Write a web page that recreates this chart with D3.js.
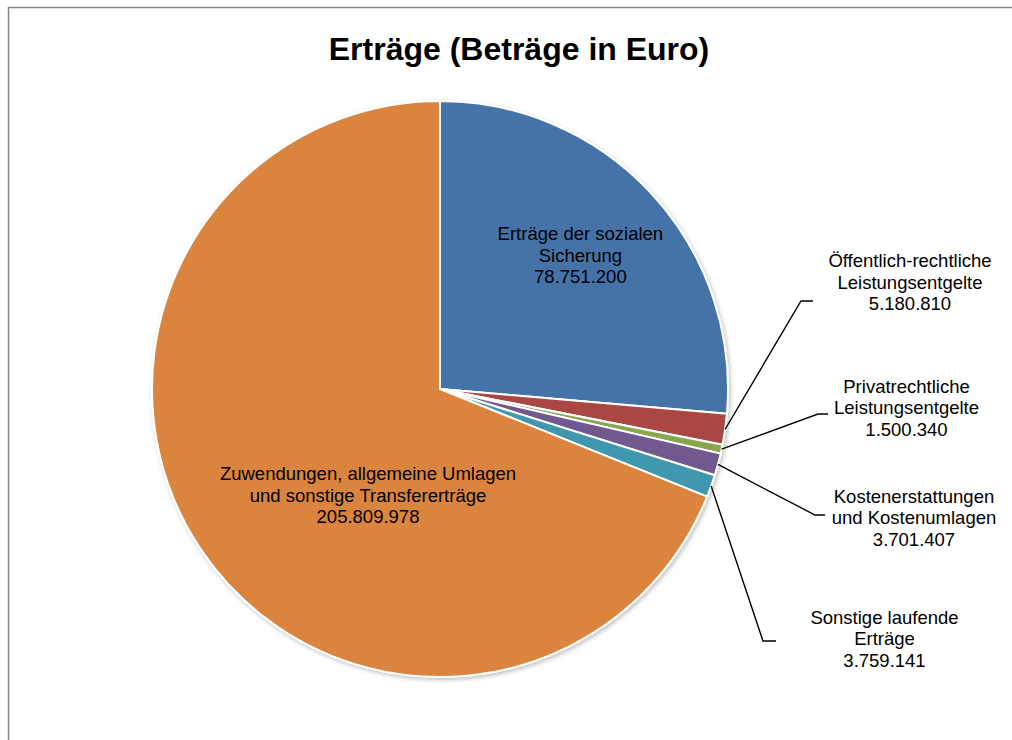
<!DOCTYPE html>
<html>
<head>
<meta charset="utf-8">
<script src="https://cdn.jsdelivr.net/npm/d3@7"></script>
<style>
  body { margin: 0; background: #fff; }
  text { font-family: "Liberation Sans", Arial, sans-serif; fill: #000; }
</style>
</head>
<body>
<div id="main"></div>
<script>
// chart data
var categories = [
    ["Erträge der sozialen", "Sicherung"],
    ["Öffentlich-rechtliche", "Leistungsentgelte"],
    ["Privatrechtliche", "Leistungsentgelte"],
    ["Kostenerstattungen", "und Kostenumlagen"],
    ["Sonstige laufende", "Erträge"],
    ["Zuwendungen, allgemeine Umlagen", "und sonstige Transfererträge"]
];
var values = [78751200, 5180810, 1500340, 3701407, 3759141, 205809978];
var colors = ["#4572A7", "#AA4643", "#89A54E", "#71588F", "#4198AF", "#DB843D"];
var title = "Erträge (Beträge in Euro)";

var ctx = { w: 1012, h: 740, cx: 440, cy: 389, r: 288, lineH: 21.5 };

// label layout: inside labels by polar offset of the middle line,
// outside labels with elbow point and first-line baseline
var labelLayout = [
    { inside: true, angle: 47.8, dist: 189.5 },
    { elbow: [801, 301], end: 813, tx: 910, ty: 267 },
    { elbow: [818, 414], end: 828, tx: 906.5, ty: 392.5 },
    { elbow: [815, 515], end: 825, tx: 914, ty: 502.5 },
    { elbow: [763, 641], end: 776, tx: 884.5, ty: 623.5 },
    { inside: true, angle: 212.6, dist: 133.6 }
];

var fmt = function(v) { return d3.format(",")(v).replace(/,/g, "."); };

var svg = d3.select("#main").append("svg")
    .attr("width", ctx.w)
    .attr("height", ctx.h);

var defs = svg.append("defs");
var f = defs.append("filter").attr("id", "shadow")
    .attr("x", "-10%").attr("y", "-10%").attr("width", "120%").attr("height", "120%");
f.append("feDropShadow").attr("dx", 1.5).attr("dy", 2).attr("stdDeviation", 2)
    .attr("flood-color", "#000").attr("flood-opacity", 0.25);

// frame
svg.append("rect")
    .attr("x", 8.5).attr("y", 7.5)
    .attr("width", 1030).attr("height", 760)
    .attr("fill", "#fff")
    .attr("stroke", "#868686").attr("stroke-width", 1.5);

svg.append("text")
    .attr("x", 519).attr("y", 59.5)
    .attr("text-anchor", "middle")
    .style("font-size", "32px").style("font-weight", "bold")
    .text(title);

var pie = d3.pie().sort(null).value(function(d) { return d; });
var arcs = pie(values);
var arc = d3.arc().innerRadius(0).outerRadius(ctx.r);

var g = svg.append("g").attr("transform", "translate(" + ctx.cx + "," + ctx.cy + ")");

g.append("g").attr("filter", "url(#shadow)")
    .selectAll("path")
    .data(arcs)
    .enter().append("path")
    .attr("d", arc)
    .attr("fill", function(d, i) { return colors[i]; })
    .attr("stroke", "#fff")
    .attr("stroke-width", 2)
    .attr("stroke-linejoin", "round");

arcs.forEach(function(d, i) {
    var lay = labelLayout[i];
    var lines = categories[i].concat([fmt(values[i])]);
    var tx, ty;
    if (lay.inside) {
        var a = lay.angle * Math.PI / 180;
        tx = ctx.cx + lay.dist * Math.sin(a);
        ty = ctx.cy - lay.dist * Math.cos(a) - ctx.lineH;
    } else {
        // leader line from the slice's outer mid point
        var mid = (d.startAngle + d.endAngle) / 2;
        var sx = ctx.cx + ctx.r * Math.sin(mid),
            sy = ctx.cy - ctx.r * Math.cos(mid);
        svg.append("path")
            .attr("d", d3.line()([[sx, sy], lay.elbow, [lay.end, lay.elbow[1]]]))
            .attr("fill", "none")
            .attr("stroke", "#000")
            .attr("stroke-width", 1.4);
        tx = lay.tx;
        ty = lay.ty;
    }
    var t = svg.append("text")
        .attr("text-anchor", "middle")
        .style("font-size", "18.5px");
    lines.forEach(function(s, k) {
        t.append("tspan").attr("x", tx).attr("y", ty + k * ctx.lineH).text(s);
    });
});
</script>
</body>
</html>
